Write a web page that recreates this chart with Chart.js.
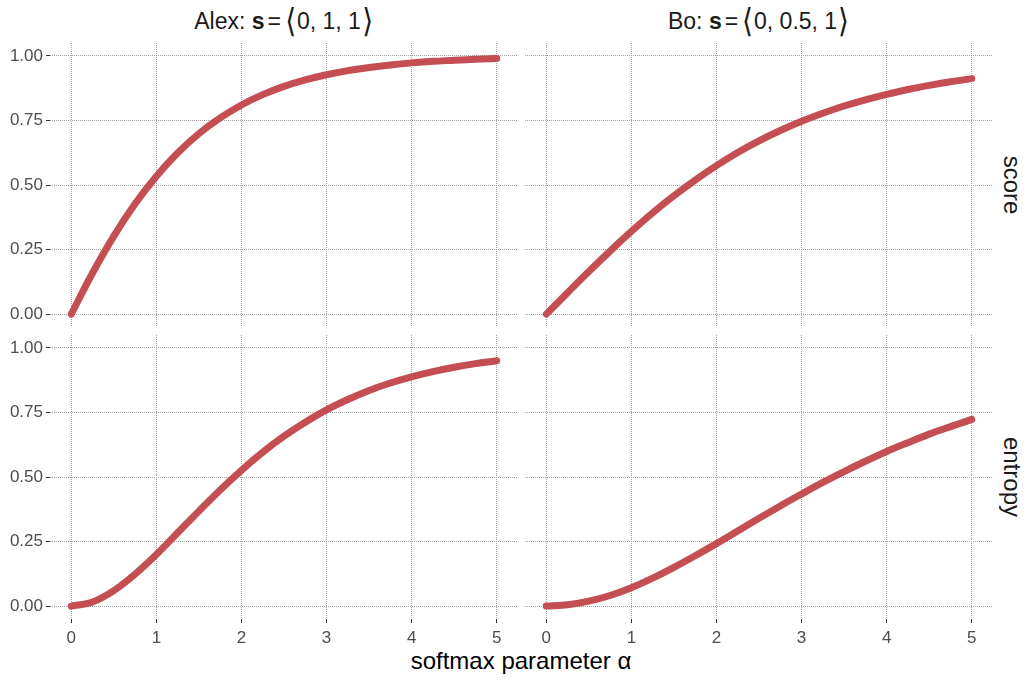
<!DOCTYPE html>
<html><head><meta charset="utf-8">
<script src="https://cdn.jsdelivr.net/npm/chart.js@4.4.0/dist/chart.umd.min.js"></script>
<style>
html,body{margin:0;padding:0;background:#fff;width:1026px;height:681px;overflow:hidden;font-family:"Liberation Sans",Arial,sans-serif;}
canvas{position:absolute;}
.txt{position:absolute;white-space:nowrap;color:#1a1a1a;line-height:1;}
.strip{font-size:23px;top:10px;height:26px;transform:translateX(-50%);}
.br{font-family:"DejaVu Sans",sans-serif;font-size:33px;line-height:0;vertical-align:-3px;display:inline-block;transform:scaleX(0.85);}
.eq{padding:0 3px;}
.row{font-size:24px;transform:translate(-50%,-50%) rotate(90deg);}
</style></head><body>
<div class="txt strip" style="left:284px">Alex: <b>s</b><span class="eq">=</span><span class="br">⟨</span>0, 1, 1<span class="br">⟩</span></div>
<div class="txt strip" style="left:759px">Bo: <b>s</b><span class="eq">=</span><span class="br">⟨</span>0, 0.5, 1<span class="br">⟩</span></div>
<div class="txt row" style="left:1012px;top:185px">score</div>
<div class="txt row" style="left:1012px;top:477px">entropy</div>
<div class="txt" style="left:521px;top:649px;font-size:24px;color:#000;transform:translateX(-50%)">softmax parameter α</div>
<canvas id="tl" width="518" height="284" style="left:0;top:43px;width:518px;height:284px"></canvas>
<canvas id="tr" width="468" height="284" style="left:525px;top:43px;width:468px;height:284px"></canvas>
<canvas id="bl" width="518" height="314" style="left:0;top:335px;width:518px;height:314px"></canvas>
<canvas id="br" width="468" height="314" style="left:525px;top:335px;width:468px;height:314px"></canvas>
<script>
const alpha = [0,0.25,0.5,0.75,1,1.25,1.5,1.75,2,2.25,2.5,2.75,3,3.25,3.5,3.75,4,4.25,4.5,4.75,5];
const alexScore = [0,0.159,0.302,0.427,0.534,0.624,0.699,0.760,0.810,0.850,0.882,0.907,0.927,0.943,0.955,0.965,0.973,0.979,0.983,0.987,0.990];
const boScore = [0,0.083,0.165,0.244,0.320,0.392,0.458,0.519,0.575,0.626,0.671,0.711,0.747,0.778,0.806,0.830,0.851,0.870,0.886,0.900,0.912];
const alexEntropy = [0,0.016,0.060,0.124,0.200,0.284,0.368,0.450,0.526,0.596,0.658,0.712,0.760,0.800,0.835,0.864,0.888,0.908,0.925,0.939,0.950];
const boEntropy = [0,0.005,0.019,0.041,0.071,0.108,0.150,0.195,0.242,0.291,0.340,0.388,0.434,0.479,0.521,0.561,0.599,0.633,0.666,0.695,0.723];
const xTicks = [0,1,2,3,4,5];
const yTicks = [0,0.25,0.5,0.75,1];

const FONT = "'Liberation Sans', Arial, sans-serif";
const LINE = '#c44e52';
const GRID = '#a0a0a0';

function zeroPad(s) { s.paddingTop = 0; s.paddingBottom = 0; s.paddingLeft = 0; s.paddingRight = 0; }

function makeChart(id, values, showX, showY) {
  const pts = alpha.map((a, i) => ({x: a, y: values[i]}));
  new Chart(document.getElementById(id), {
    type: 'line',
    data: { datasets: [{ data: pts, borderColor: LINE, borderWidth: 7, pointRadius: 0,
      borderCapStyle: 'round', borderJoinStyle: 'round', cubicInterpolationMode: 'monotone', fill: false }] },
    options: {
      responsive: false, animation: false, devicePixelRatio: 1,
      layout: { padding: 0 },
      plugins: { legend: { display: false }, tooltip: { enabled: false }, title: { display: false } },
      scales: {
        x: {
          type: 'linear', min: -0.25, max: 5.25,
          afterBuildTicks: s => { s.ticks = xTicks.map(v => ({value: v})); },
          afterFit: s => { s.height = showX ? 30 : 0; zeroPad(s); },
          grid: { color: GRID, lineWidth: 1, drawTicks: showX, tickLength: 4, tickColor: '#333333', tickWidth: 1, tickBorderDash: [], borderDash: [1, 1] },
          border: { display: false, dash: [1, 1] },
          ticks: { display: showX, padding: 5, color: '#4d4d4d', font: { size: 17, family: FONT }, autoSkip: false, maxRotation: 0, callback: v => String(v) }
        },
        y: {
          type: 'linear', min: -0.05, max: 1.05,
          afterBuildTicks: s => { s.ticks = yTicks.map(v => ({value: v})); },
          afterFit: s => { s.width = showY ? 50 : 0; zeroPad(s); },
          grid: { color: GRID, lineWidth: 1, drawTicks: showY, tickLength: 4, tickColor: '#333333', tickWidth: 1, tickBorderDash: [], borderDash: [1, 1] },
          border: { display: false, dash: [1, 1] },
          ticks: { display: showY, padding: 3, color: '#4d4d4d', font: { size: 17, family: FONT }, autoSkip: false, callback: v => Number(v).toFixed(2) }
        }
      }
    }
  });
}
makeChart('tl', alexScore, false, true);
makeChart('tr', boScore, false, false);
makeChart('bl', alexEntropy, true, true);
makeChart('br', boEntropy, true, false);
</script>
</body></html>
